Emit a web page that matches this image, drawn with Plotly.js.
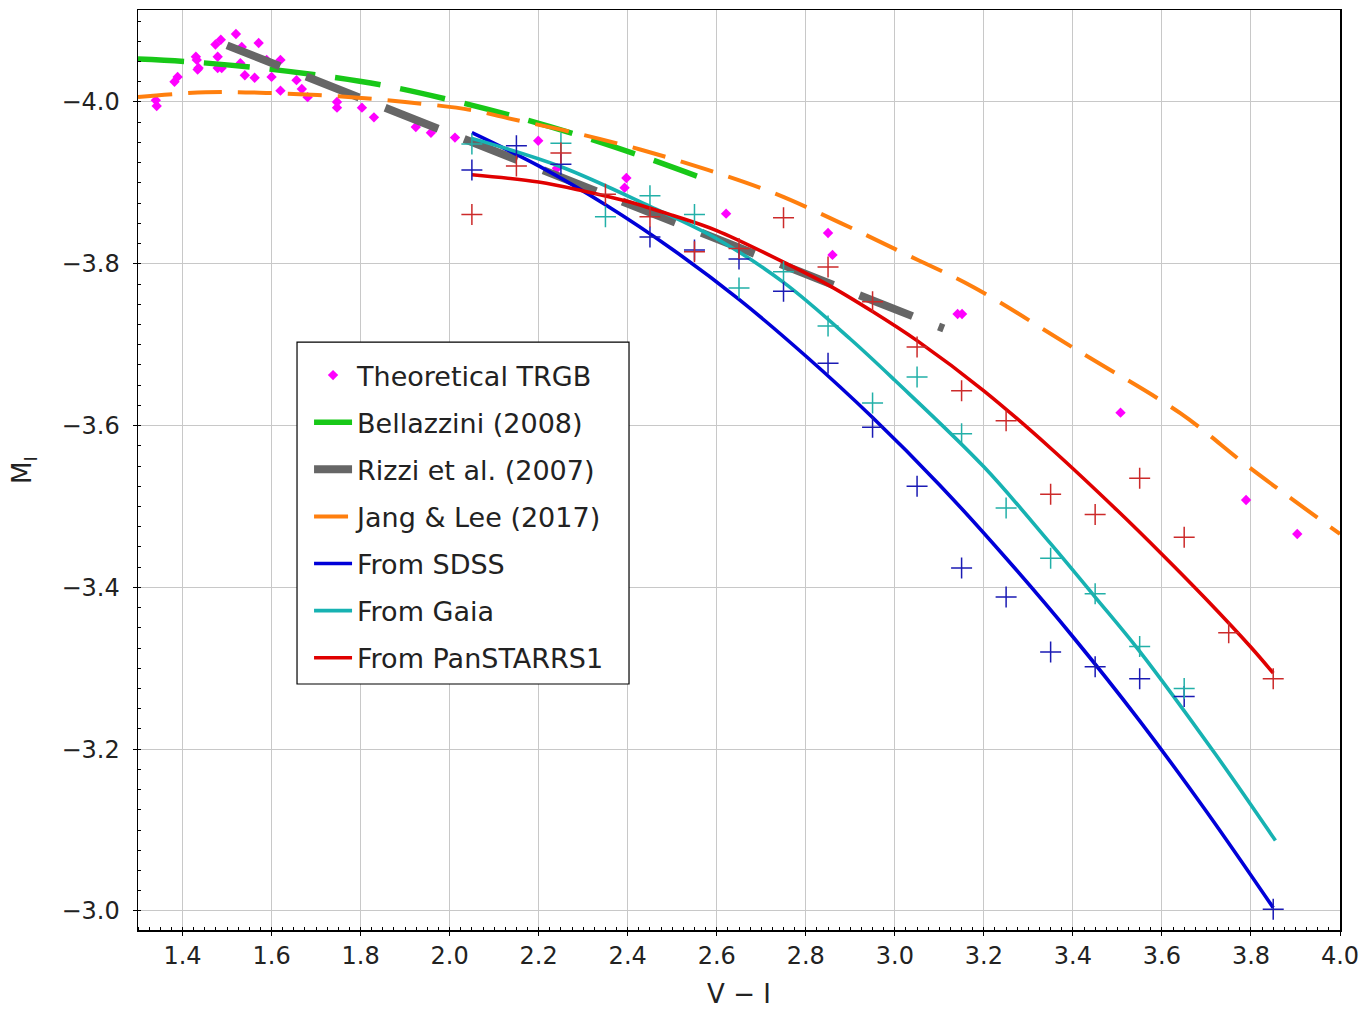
<!DOCTYPE html>
<html>
<head>
<meta charset="utf-8">
<script src="https://cdn.plot.ly/plotly-3.0.1.min.js"></script>
<style>html,body{margin:0;padding:0;background:#fff;}#chart{width:1365px;height:1009px;}</style>
</head>
<body>
<div id="chart"></div>
<script>
// Theoretical TRGB points
const theoX = [1.34,1.342,1.382,1.389,1.43,1.432,1.436,1.434,1.474,1.486,1.479,1.479,1.488,1.52,1.533,1.54,1.53,1.571,1.562,1.589,1.60,1.62,1.62,1.656,1.668,1.681,1.747,1.747,1.803,1.83,1.924,1.958,2.012,2.199,2.241,2.397,2.393,2.621,2.85,2.86,3.141,3.151,3.507,3.789,3.904];
const theoY = [-4.002,-3.995,-4.025,-4.031,-4.056,-4.052,-4.042,-4.040,-4.071,-4.077,-4.056,-4.042,-4.042,-4.084,-4.068,-4.033,-4.048,-4.073,-4.030,-4.052,-4.031,-4.052,-4.014,-4.027,-4.016,-4.006,-4.000,-3.993,-3.993,-3.981,-3.969,-3.962,-3.956,-3.952,-3.918,-3.906,-3.894,-3.862,-3.838,-3.811,-3.738,-3.738,-3.616,-3.508,-3.466];

// Bellazzini (2008)
const bellX = [1.3,1.407,1.555,1.706,1.857,2.005,2.153,2.295,2.437,2.592];
const bellY = [-4.053,-4.050,-4.043,-4.033,-4.020,-4.002,-3.981,-3.958,-3.932,-3.901];

// Rizzi et al. (2007)
const rizziX = [1.5,3.11];
const rizziY = [-4.070,-3.720];

// Jang & Lee (2017)
const jangX = [1.3,1.452,1.6,1.75,1.9,2.05,2.13,2.28,2.43,2.58,2.73,2.88,3.02,3.177,3.41,3.642,3.797,4.0];
const jangY = [-4.006,-4.012,-4.011,-4.007,-4.000,-3.990,-3.980,-3.962,-3.941,-3.916,-3.887,-3.850,-3.813,-3.771,-3.693,-3.615,-3.548,-3.466];

// From SDSS (curve)
const sdssX = [2.05,2.2,2.35,2.5,2.65,2.8,2.95,3.1,3.25,3.4,3.55,3.7,3.85];
const sdssY = [-3.962,-3.921,-3.873,-3.818,-3.756,-3.686,-3.610,-3.527,-3.436,-3.339,-3.235,-3.123,-3.004];

// From Gaia (curve)
const gaiaX = [2.05,2.25,2.45,2.6,2.75,2.9,3.0,3.2,3.35,3.45,3.55,3.72,3.855];
const gaiaY = [-3.955,-3.920,-3.871,-3.831,-3.777,-3.707,-3.656,-3.549,-3.454,-3.388,-3.321,-3.194,-3.087];

// From PanSTARRS1 (curve)
const ps1X = [2.05,2.2,2.3,2.4,2.5,2.6,2.75,2.85,2.95,3.05,3.2,3.35,3.5,3.6,3.7,3.8,3.85];
const ps1Y = [-3.910,-3.901,-3.890,-3.877,-3.860,-3.841,-3.802,-3.774,-3.741,-3.705,-3.643,-3.572,-3.495,-3.441,-3.385,-3.326,-3.294];

// Measured points (+)
const sdssPtX = [2.05,2.15,2.25,2.45,2.55,2.65,2.75,2.85,2.95,3.05,3.15,3.25,3.35,3.45,3.55,3.65,3.85];
const sdssPtY = [-3.916,-3.946,-3.923,-3.833,-3.817,-3.806,-3.766,-3.677,-3.598,-3.525,-3.424,-3.388,-3.320,-3.302,-3.287,-3.265,-3.002];
const gaiaPtX = [2.05,2.25,2.35,2.45,2.55,2.65,2.75,2.85,2.95,3.05,3.15,3.25,3.35,3.45,3.55,3.65];
const gaiaPtY = [-3.948,-3.949,-3.858,-3.884,-3.861,-3.770,-3.790,-3.723,-3.628,-3.660,-3.590,-3.498,-3.436,-3.392,-3.327,-3.275];
const ps1PtX = [2.05,2.15,2.25,2.35,2.45,2.55,2.65,2.75,2.85,2.95,3.05,3.15,3.25,3.35,3.45,3.55,3.65,3.75,3.85];
const ps1PtY = [-3.861,-3.921,-3.937,-3.886,-3.858,-3.815,-3.819,-3.857,-3.796,-3.753,-3.697,-3.643,-3.606,-3.515,-3.490,-3.535,-3.462,-3.344,-3.287];

const xTicks = [1.4,1.6,1.8,2.0,2.2,2.4,2.6,2.8,3.0,3.2,3.4,3.6,3.8,4.0];
const yTicks = [-4.0,-3.8,-3.6,-3.4,-3.2,-3.0];

const FONT = 'DejaVu Sans, sans-serif';

const traces = [
  {x: theoX, y: theoY, mode: 'markers', name: 'Theoretical TRGB', legendgroup: 'a',
   marker: {symbol: 'diamond', size: 8, color: '#ff00ff'}},
  {x: bellX, y: bellY, mode: 'lines', name: 'Bellazzini (2008)', legendgroup: 'b',
   line: {color: '#18c818', width: 5.5, dash: '46px,20px', shape: 'spline'}},
  {x: rizziX, y: rizziY, mode: 'lines', name: 'Rizzi et al. (2007)', legendgroup: 'c',
   line: {color: '#666666', width: 8, dash: '57px,28px'}},
  {x: jangX, y: jangY, mode: 'lines', name: 'Jang & Lee (2017)', legendgroup: 'd',
   line: {color: '#ff7f0e', width: 4, dash: '34px,16px', shape: 'spline'}},
  {x: sdssX, y: sdssY, mode: 'lines', name: 'From SDSS', legendgroup: 'e',
   line: {color: '#0000d8', width: 3.6, shape: 'spline'}},
  {x: gaiaX, y: gaiaY, mode: 'lines', name: 'From Gaia', legendgroup: 'f',
   line: {color: '#17b2b2', width: 3.6, shape: 'spline'}},
  {x: ps1X, y: ps1Y, mode: 'lines', name: 'From PanSTARRS1', legendgroup: 'g',
   line: {color: '#e00000', width: 3.6, shape: 'spline'}},
  {x: sdssPtX, y: sdssPtY, mode: 'markers', showlegend: false,
   marker: {symbol: 'cross-thin', size: 15, line: {color: '#1a1ab4', width: 1.5}}},
  {x: gaiaPtX, y: gaiaPtY, mode: 'markers', showlegend: false,
   marker: {symbol: 'cross-thin', size: 15, line: {color: '#22b0a8', width: 1.5}}},
  {x: ps1PtX, y: ps1PtY, mode: 'markers', showlegend: false,
   marker: {symbol: 'cross-thin', size: 15, line: {color: '#cc2a2a', width: 1.5}}}
];

const layout = {
  width: 1365, height: 1009,
  margin: {l: 138, r: 25, t: 10, b: 79},
  paper_bgcolor: '#ffffff', plot_bgcolor: '#ffffff',
  font: {family: FONT, color: '#222222'},
  showlegend: true,
  legend: {x: 0.1423, y: 0.6293, xanchor: 'left', yanchor: 'top',
    bgcolor: 'rgba(0,0,0,0)', borderwidth: 0,
    font: {family: FONT, size: 27, color: '#222222'}, tracegroupgap: 9, itemwidth: 38},
  shapes: [
    {type: 'rect', xref: 'paper', yref: 'paper', x0: 0.1323, x1: 0.4085, y0: 0.2674, y1: 0.6391,
     line: {color: '#000000', width: 1.2}, fillcolor: '#ffffff', layer: 'above'}
  ],
  xaxis: {
    range: [1.3, 4.0], tickvals: xTicks, tickformat: '.1f',
    showgrid: true, gridcolor: '#c8c8c8', gridwidth: 1,
    showline: true, linecolor: '#000000', linewidth: 1.5, mirror: true,
    ticks: 'outside', ticklen: 4, tickcolor: '#000',
    minor: {dtick: 0.025, ticks: 'inside', ticklen: 3, tickcolor: '#000', showgrid: false},
    tickfont: {family: FONT, size: 24, color: '#222222'},
    zeroline: false,
    title: {text: 'V − I', font: {family: FONT, size: 26, color: '#222222'}, standoff: 15}
  },
  yaxis: {
    range: [-2.9765, -4.1137], tickvals: yTicks, tickformat: '.1f',
    showgrid: true, gridcolor: '#c8c8c8', gridwidth: 1,
    showline: true, linecolor: '#000000', linewidth: 1.5, mirror: true,
    ticks: 'outside', ticklen: 4, tickcolor: '#000', ticklabelstandoff: 8,
    minor: {dtick: 0.025, ticks: 'inside', ticklen: 3, tickcolor: '#000', showgrid: false},
    tickfont: {family: FONT, size: 24, color: '#222222'},
    zeroline: false,
    title: {text: 'M<sub>I</sub>', font: {family: FONT, size: 26, color: '#222222'}, standoff: 22}
  }
};

Plotly.newPlot('chart', traces, layout, {displayModeBar: false, staticPlot: true});
</script>
</body>
</html>
